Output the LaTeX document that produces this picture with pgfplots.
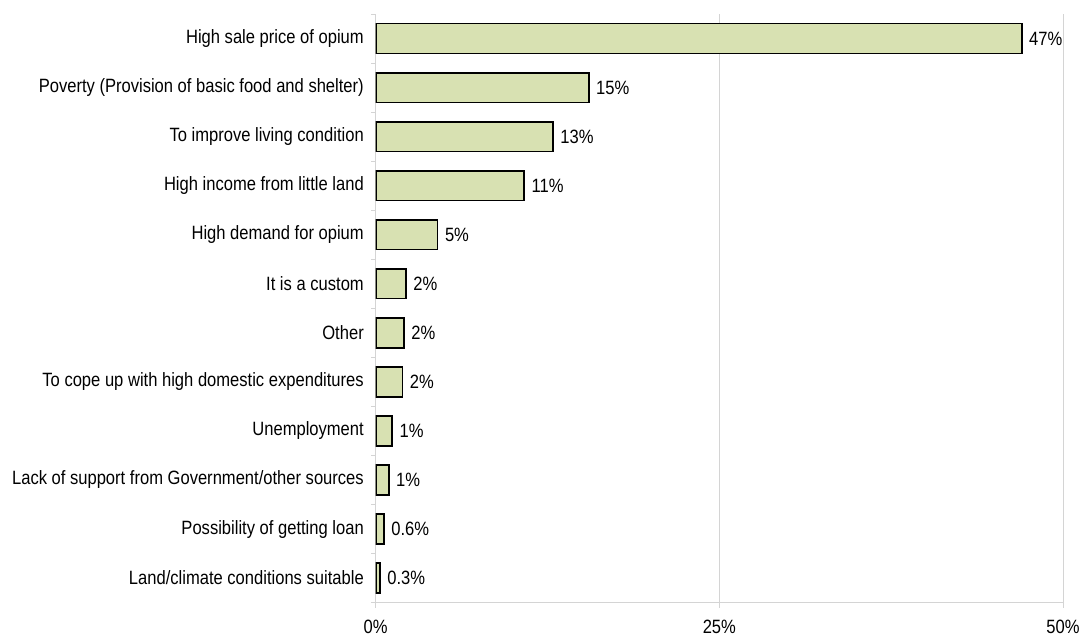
\documentclass[border=0pt]{standalone}
\usepackage{fontspec}
\setmainfont{Liberation Sans}[FakeStretch=0.86]
\usepackage{pgfplots}
\pgfplotsset{compat=1.18}
\usepackage{pgfplotstable}
\definecolor{barfill}{RGB}{216,225,178}
\definecolor{axgray}{RGB}{212,212,212}
\pgfplotstableread{
y val lab
0 47.0 47
1 15.5 15
2 12.9 13
3 10.8 11
4 4.5 5
5 2.2 2
6 2.05 2
7 1.95 2
8 1.2 1
9 0.95 1
10 0.6 0.6
11 0.3 0.3
}\datatab
\begin{document}
\begin{tikzpicture}[font=\fontsize{14.5}{17}\selectfont]
\begin{axis}[
  scale only axis, width=515.5bp, height=441.5bp,
  xmin=0, xmax=50, ymin=-0.5, ymax=11.5, y dir=reverse,
  axis x line*=bottom, axis y line*=left,
  axis line style={axgray, line width=0.75bp, -},
  xtick={0,25,50}, xticklabels={0\%,25\%,50\%},
  ytick={0,...,11},
  yticklabels={High sale price of opium,
    Poverty (Provision of basic food and shelter),
    To improve living condition,
    High income from little land,
    High demand for opium,
    It is a custom,
    Other,
    To cope up with high domestic expenditures,
    Unemployment,
    Lack of support from Government/other sources,
    Possibility of getting loan,
    Land/climate conditions suitable},
  minor ytick={-0.5,0.5,...,11.5},
  xmajorgrids, grid style={axgray, line width=0.75bp},
  tick style={axgray, line width=0.75bp},
  major y tick style={draw=none},
  tick align=outside,
  major tick length=3.75bp, minor tick length=3.5bp,
  yticklabel style={anchor=east, inner sep=0pt, xshift=-5bp},
  xticklabel style={anchor=north, inner sep=0pt, yshift=-8.8bp},
  xbar, bar width=22.3bp,
  point meta=explicit symbolic,
  nodes near coords={\pgfplotspointmeta\%},
  nodes near coords style={anchor=west, inner sep=0pt, xshift=5bp, black},
]
\addplot[draw=black, fill=barfill, line width=1.2bp] table[x=val, y=y, meta=lab] {\datatab};
\end{axis}
\pgfresetboundingbox
\path[use as bounding box] ([xshift=-281.8bp,yshift=-25.7bp]current axis.south west) rectangle ([xshift=13.5bp,yshift=10.5bp]current axis.north east);
\end{tikzpicture}
\end{document}
